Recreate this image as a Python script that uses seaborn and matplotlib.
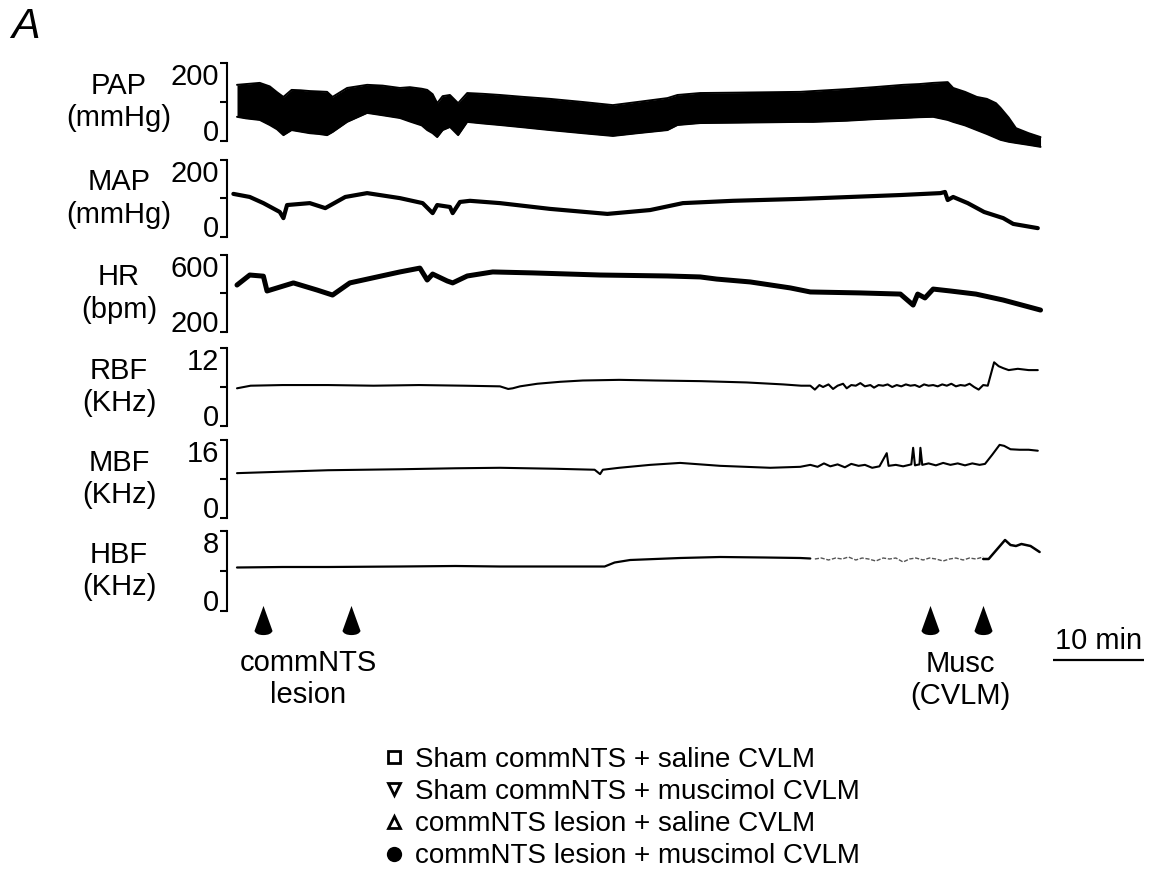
import numpy as np
import matplotlib
matplotlib.use("Agg")
import matplotlib.pyplot as plt
import seaborn as sns
from matplotlib.path import Path
from matplotlib.lines import Line2D

sns.set_theme(style="white")
plt.rcParams['font.family'] = ['Liberation Sans', 'DejaVu Sans']
plt.rcParams.update({"text.color": "black", "axes.labelcolor": "black",
                     "xtick.color": "black", "ytick.color": "black"})

# ---------------- recorded traces (time in minutes) ----------------
pap_t  = [0.0, 1.0, 2.5, 3.6, 4.4, 5.1, 6.0, 7.0, 8.0, 9.0, 9.9, 10.5, 12.1, 14.3,
          16.0, 17.9, 19.0, 20.3, 20.9, 21.5, 22.0, 22.6, 23.4, 24.3, 25.3, 27.0,
          28.9, 31.5, 34.4, 38.0, 41.3, 44.0, 47.3, 48.4, 50.9, 55.0, 58.5, 61.9,
          63.3, 67.0, 70.0, 73.2, 75.0, 76.5, 78.1, 78.7, 80.0, 81.3, 82.4, 83.4,
          83.9, 84.8, 85.6, 87.0, 88.3]
pap_hi = [144, 146, 149, 140, 125, 113, 131, 130, 128, 127, 126, 113, 136, 144,
          142, 136, 138, 134, 131, 120, 97, 115, 118, 97, 123, 121,
          118, 113, 108, 100, 92, 100, 110, 118, 123, 124, 125, 126,
          128, 133, 138, 144, 146, 149, 151, 136, 126, 113, 108, 97,
          85, 60, 33, 20, 10]
pap_lo = [62, 58, 54, 41, 30, 15, 28, 24, 20, 18, 15, 23, 49, 72,
          66, 59, 50, 40, 28, 20, 10, 28, 36, 15, 49, 45,
          41, 35, 28, 20, 13, 20, 28, 41, 46, 47, 48, 49,
          49, 52, 56, 59, 61, 62, 54, 49, 40, 28, 18, 8,
          3, -2, -5, -10, -15]

map_t = [-0.4, 1.4, 2.9, 4.7, 5.1, 5.5, 8.0, 9.7, 11.9, 14.3, 17.9, 20.4, 21.5, 22.0,
         23.4, 23.7, 24.5, 25.6, 28.9, 34.4, 40.7, 45.4, 49.0, 54.5, 61.9, 72.9,
         77.3, 77.8, 78.1, 78.7, 80.3, 82.1, 84.2, 85.3, 88.0]
map_v = [112, 104, 88, 65, 49, 83, 88, 75, 104, 114, 101, 88, 62, 83,
         78, 62, 91, 94, 88, 73, 60, 70, 88, 94, 99, 109,
         114, 117, 96, 104, 88, 65, 49, 34, 23]

hr_t = [0.0, 1.4, 2.9, 3.3, 6.2, 8.8, 10.5, 12.4, 17.9, 20.1, 20.9, 21.5, 23.1, 23.7,
        25.3, 28.1, 32.5, 39.9, 47.3, 50.9, 52.7, 56.4, 60.8, 63.0, 68.5, 72.9,
        74.3, 74.8, 75.6, 76.5, 78.4, 81.2, 84.2, 88.3]
hr_v = [444, 496, 490, 413, 455, 418, 392, 455, 512, 532, 470, 501, 465, 455,
        491, 512, 507, 496, 491, 486, 475, 460, 429, 408, 403, 397,
        340, 397, 377, 423, 413, 397, 366, 314]

rbf_t = [0.0, 1.5, 5.0, 10.0, 15.0, 20.0, 25.0, 28.9, 29.8, 30.3, 31.1, 33.0, 35.5,
         38.0, 42.0, 46.0, 51.0, 56.0, 60.0, 62.0,
         63.0, 63.5, 64.0, 64.4, 65.0, 65.5, 66.0, 66.6, 67.0, 67.5, 68.0, 68.5, 69.0,
         69.6, 70.0, 70.5, 71.0, 71.5, 72.0, 72.5, 73.0, 73.5, 74.0, 74.5, 75.0, 75.5,
         76.0, 76.5, 77.0, 77.5, 78.0, 78.5, 79.0, 79.5, 80.0, 80.5, 81.0, 81.5,
         82.0, 82.5, 83.2, 83.7, 84.2, 84.8, 85.8, 87.0, 88.0]
rbf_v = [5.8, 6.2, 6.3, 6.3, 6.2, 6.3, 6.2, 6.1, 5.7, 5.8, 6.1, 6.5, 6.8,
         7.0, 7.1, 7.0, 6.9, 6.7, 6.4, 6.2,
         6.2, 5.6, 6.3, 6.0, 6.4, 5.7, 6.2, 6.5, 5.8, 6.3, 6.2, 6.6, 6.1,
         6.3, 5.9, 6.3, 6.2, 6.4, 6.0, 6.3, 6.1, 6.4, 6.2, 6.3, 6.0, 6.4,
         6.2, 6.3, 6.1, 6.4, 6.2, 6.5, 6.1, 6.3, 6.2, 6.5, 6.0, 5.6,
         6.3, 6.2, 9.8, 9.2, 8.9, 8.6, 8.8, 8.6, 8.6]

mbf_t = [0.0, 5.0, 10.0, 17.9, 24.0, 28.9, 35.0, 39.3, 39.9, 40.2, 42.0, 45.4, 48.7,
         53.1, 58.6, 61.9, 63.0,
         63.8, 64.5, 65.2, 66.0, 66.8, 67.5, 68.3, 69.0, 69.8, 70.6, 71.4, 71.6, 72.4,
         73.2, 74.1, 74.3, 74.5, 75.0, 75.1, 75.3, 76.0, 76.8, 77.6, 78.4, 79.2, 80.0,
         80.8, 81.6, 82.2, 83.0, 83.8, 84.3, 85.0, 86.0, 87.0, 88.0]
mbf_v = [9.2, 9.5, 9.8, 10.0, 10.2, 10.3, 10.1, 9.9, 9.0, 9.9, 10.3, 10.9, 11.3,
         10.7, 10.3, 10.5, 10.9,
         10.5, 11.2, 10.6, 11.0, 10.4, 11.1, 10.7, 10.9, 10.3, 10.6, 13.3, 10.7, 10.9,
         10.6, 11.0, 14.4, 10.8, 11.0, 14.4, 10.9, 11.2, 10.8, 11.3, 10.9, 11.2, 10.8,
         11.2, 10.9, 11.1, 13.0, 15.0, 14.8, 14.1, 14.0, 14.0, 13.8]

hbf_t = [0.0, 5.0, 10.0, 17.9, 24.0, 28.9, 35.0, 40.4, 41.5, 43.2, 48.7, 53.1, 58.0,
         61.9, 63.0]
hbf_v = [4.35, 4.4, 4.4, 4.45, 4.5, 4.45, 4.45, 4.45, 4.85, 5.1, 5.3, 5.4, 5.35,
         5.3, 5.25]
hbf_noisy_t = [63.5, 64.2, 65.0, 65.8, 66.5, 67.2, 68.0, 68.7, 69.4, 70.2, 71.0, 71.7,
               72.4, 73.2, 73.9, 74.6, 75.4, 76.1, 76.8, 77.6, 78.3, 79.0, 79.8, 80.5,
               81.2, 82.0]
hbf_noisy_v = [5.2, 5.3, 5.1, 5.3, 5.2, 5.4, 5.1, 5.3, 5.2, 5.0, 5.3, 5.2,
               5.3, 4.9, 5.2, 5.3, 5.1, 5.3, 5.2, 5.0, 5.2, 5.3, 5.1, 5.3,
               5.2, 5.4]
hbf_end_t = [82.0, 82.6, 84.4, 85.0, 85.6, 86.2, 87.2, 88.2]
hbf_end_v = [5.2, 5.2, 7.1, 6.6, 6.5, 6.7, 6.5, 5.9]

# event markers (min) and scale bar
lesion_times = [2.9, 12.5]
musc_times = [76.2, 82.0]
scale_bar_min = 10

legend_labels = ["Sham commNTS + saline CVLM",
                 "Sham commNTS + muscimol CVLM",
                 "commNTS lesion + saline CVLM",
                 "commNTS lesion + muscimol CVLM"]

# ---------------- layout ----------------
W, H = 1151, 871
fig = plt.figure(figsize=(W / 100, H / 100), dpi=100)

PX_PER_MIN = 9.1
T0_PX = 237
AX_LEFT_PX, AX_RIGHT_PX = 227, 1065
xlim = ((AX_LEFT_PX - T0_PX) / PX_PER_MIN, (AX_RIGHT_PX - T0_PX) / PX_PER_MIN)

FS = 21
INK = "black"

panels = [
    # name, unit, (lo, mid, hi), top px, bottom px
    ("PAP", "(mmHg)", (0, 100, 200), 63, 141),
    ("MAP", "(mmHg)", (0, 100, 200), 160, 237),
    ("HR", "(bpm)", (200, 400, 600), 255, 332),
    ("RBF", "(KHz)", (0, 6, 12), 348, 426),
    ("MBF", "(KHz)", (0, 8, 16), 440, 518),
    ("HBF", "(KHz)", (0, 4, 8), 531, 611),
]

axes = {}
for name, unit, (lo, mid, hi), top, bot in panels:
    ax = fig.add_axes([AX_LEFT_PX / W, 1 - bot / H,
                       (AX_RIGHT_PX - AX_LEFT_PX) / W, (bot - top) / H])
    ax.set_facecolor("none")
    ax.set_xlim(*xlim)
    ax.set_ylim(lo, hi)
    ax.set_xticks([])
    ax.set_yticks([lo, mid, hi])
    ax.set_yticklabels([str(lo), "", str(hi)])
    for s in ("top", "right", "bottom"):
        ax.spines[s].set_visible(False)
    ax.spines["left"].set_linewidth(1.5)
    ax.spines["left"].set_color(INK)
    ax.tick_params(axis="y", left=True, length=5, width=1.5, direction="out",
                   pad=1, labelsize=FS, colors=INK)
    ticks = ax.yaxis.get_major_ticks()
    ticks[0].label1.set_va("baseline")
    ticks[2].label1.set_va("top")
    fig.text(119 / W, 1 - (top + bot) / 2 / H, f"{name}\n{unit}", ha="center",
             va="center", fontsize=FS, linespacing=1.2, color=INK)
    axes[name] = ax

line_kw = dict(color=INK, estimator=None, sort=False, legend=False, clip_on=False)

# pulsatile arterial pressure: filled envelope
ax = axes["PAP"]
ax.fill_between(pap_t, pap_lo, pap_hi, color=INK, lw=0, clip_on=False)
sns.lineplot(x=pap_t, y=pap_hi, ax=ax, lw=1.4, **line_kw)
sns.lineplot(x=pap_t, y=pap_lo, ax=ax, lw=1.4, **line_kw)

sns.lineplot(x=map_t, y=map_v, ax=axes["MAP"], lw=3.0, **line_kw)
sns.lineplot(x=hr_t, y=hr_v, ax=axes["HR"], lw=3.6, **line_kw)
sns.lineplot(x=rbf_t, y=rbf_v, ax=axes["RBF"], lw=1.5, **line_kw)
sns.lineplot(x=mbf_t, y=mbf_v, ax=axes["MBF"], lw=1.5, **line_kw)
sns.lineplot(x=hbf_t, y=hbf_v, ax=axes["HBF"], lw=1.6, **line_kw)
sns.lineplot(x=hbf_noisy_t, y=hbf_noisy_v, ax=axes["HBF"], lw=1.0,
             color="#555555", estimator=None, sort=False, legend=False,
             linestyle=(0, (3, 1.2)))
sns.lineplot(x=hbf_end_t, y=hbf_end_v, ax=axes["HBF"], lw=1.8, **line_kw)

for a in axes.values():
    a.set_xlabel("")
    a.set_ylabel("")

# ---------------- event markers, scale bar ----------------
ev = fig.add_axes([AX_LEFT_PX / W, 1 - 720 / H, (W - AX_LEFT_PX) / W, 125 / H])
ev.set_xlim(xlim[0], (W - T0_PX) / PX_PER_MIN)
ev.set_ylim(720, 595)
ev.axis("off")

cone = Path([(0, 1.0), (-0.62, -0.72), (-0.5, -1.0), (0, -1.0), (0.5, -1.0),
             (0.62, -0.72), (0, 1.0)],
            [Path.MOVETO, Path.LINETO, Path.CURVE3, Path.CURVE3, Path.CURVE3,
             Path.CURVE3, Path.CLOSEPOLY])
for times in (lesion_times, musc_times):
    ev.plot(times, [620] * len(times), ls="none", marker=cone, ms=21,
            color=INK, mew=0)

ev.text(7.8, 679, "commNTS\nlesion", ha="center", va="center", fontsize=FS,
        linespacing=1.2)
ev.text(79.5, 680, "Musc\n(CVLM)", ha="center", va="center", fontsize=FS,
        linespacing=1.2)

bar_start = (1053 - T0_PX) / PX_PER_MIN
ev.plot([bar_start, bar_start + scale_bar_min], [660, 660], color=INK, lw=1.6,
        solid_capstyle="butt")
ev.text(bar_start + scale_bar_min / 2, 641, f"{scale_bar_min} min", ha="center",
        va="center", fontsize=FS)

# panel letter
fig.text(11 / W, 1 - 27 / H, "A", fontsize=31, style="italic", ha="left",
         va="center")

# ---------------- group legend ----------------
handles = [
    Line2D([], [], ls="none", marker="s", ms=8, mfc="white", mec=INK, mew=2),
    Line2D([], [], ls="none", marker="v", ms=9, mfc="white", mec=INK, mew=2),
    Line2D([], [], ls="none", marker="^", ms=9, mfc="white", mec=INK, mew=2),
    Line2D([], [], ls="none", marker="o", ms=11, mfc=INK, mec=INK, mew=0),
]
fig.legend(handles, legend_labels, loc="upper left",
           bbox_to_anchor=(383 / W, 1 - 747 / H), frameon=False, fontsize=20,
           handlelength=0.8, handletextpad=0.35, labelspacing=0.22,
           borderpad=0, borderaxespad=0)

fig.savefig("out.png", dpi=100, facecolor="white")
